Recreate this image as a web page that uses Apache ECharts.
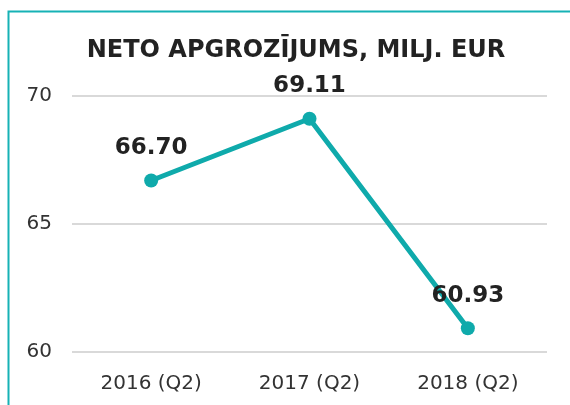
<!DOCTYPE html>
<html>
<head>
<meta charset="utf-8">
<script src="https://cdn.jsdelivr.net/npm/echarts@6/dist/echarts.min.js"></script>
<style>
  html, body { margin: 0; padding: 0; background: #fff; }
  #chart { width: 570px; height: 405px; }
</style>
</head>
<body>
<div id="chart"></div>
<script>
const periods = ['2016 (Q2)', '2017 (Q2)', '2018 (Q2)']
const turnover = [66.70, 69.11, 60.93]
const teal = '#0faaab'

const chart = echarts.init(document.getElementById('chart'))
chart.setOption({
  animation: false,
  title: {
    text: 'NETO APGROZĪJUMS, MILJ. EUR',
    left: 291,
    textAlign: 'center',
    top: 34,
    textStyle: {
      fontFamily: 'DejaVu Sans',
      fontSize: 24,
      fontWeight: 'bold',
      color: '#222'
    }
  },
  graphic: [
    {
      type: 'polyline',
      shape: { points: [[8.5, 410], [8.5, 11.5], [575, 11.5]] },
      style: { stroke: '#16b2b5', lineWidth: 2, fill: null }
    }
  ],
  grid: { left: 72, right: 23, top: 96, bottom: 53 },
  xAxis: {
    type: 'category',
    data: periods,
    axisLine: { show: false },
    axisTick: { show: false },
    axisLabel: { fontFamily: 'DejaVu Sans', fontSize: 20, color: '#333', margin: 22 }
  },
  yAxis: {
    type: 'value',
    min: 60,
    max: 70,
    interval: 5,
    axisLine: { show: false },
    axisTick: { show: false },
    splitLine: { lineStyle: { color: '#d9d9d9', width: 2 } },
    axisLabel: { fontFamily: 'DejaVu Sans', fontSize: 20, color: '#333', margin: 20 }
  },
  series: [
    {
      type: 'line',
      data: turnover,
      symbol: 'circle',
      symbolSize: 14,
      lineStyle: { color: teal, width: 5 },
      itemStyle: { color: teal },
      label: {
        show: true,
        position: 'top',
        distance: 14,
        fontFamily: 'DejaVu Sans',
        fontSize: 23,
        fontWeight: 'bold',
        color: '#222',
        formatter: p => p.value.toFixed(2)
      }
    }
  ]
})
</script>
</body>
</html>
